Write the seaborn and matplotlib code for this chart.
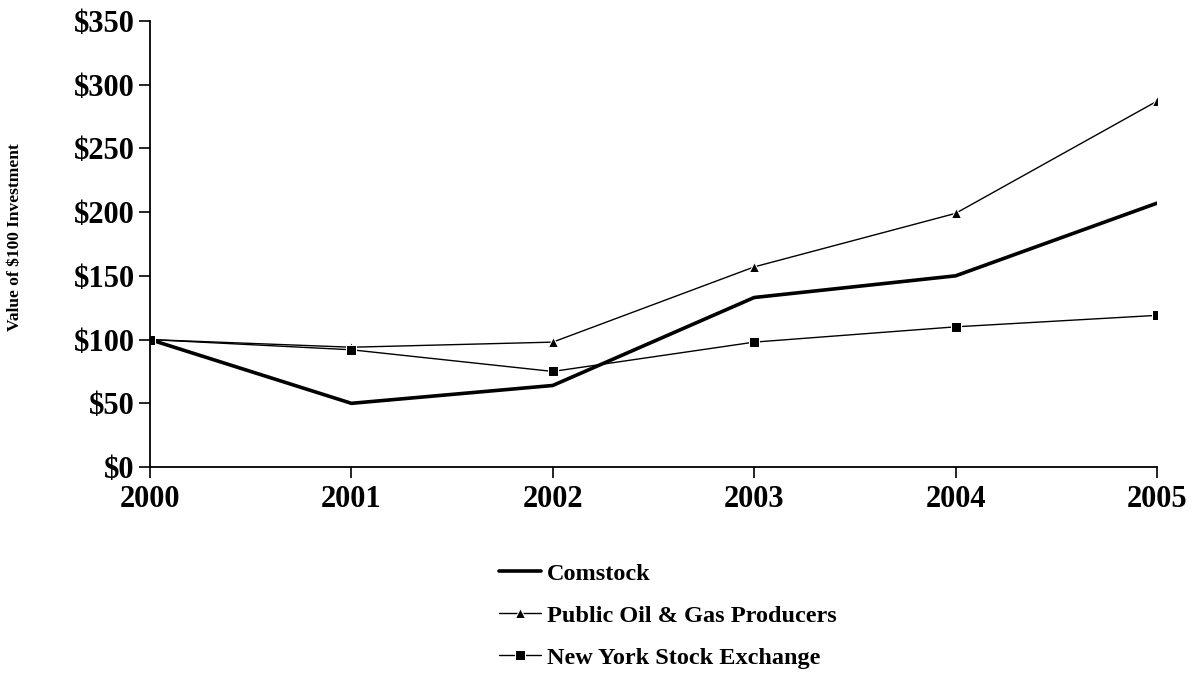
import pandas as pd
import seaborn as sns
import matplotlib.pyplot as plt
from matplotlib.ticker import FuncFormatter

years = [2000, 2001, 2002, 2003, 2004, 2005]
comstock = [100, 50, 64, 133, 150, 207]
oil_gas = [100, 94, 98, 157, 199, 287]
nyse = [100, 92, 75, 98, 110, 119]

series_names = ["Comstock", "Public Oil & Gas Producers", "New York Stock Exchange"]

df = pd.DataFrame({"year": years, series_names[0]: comstock,
                   series_names[1]: oil_gas, series_names[2]: nyse})

sns.set_style("white")
plt.rcParams['font.family'] = ['Liberation Serif', 'DejaVu Serif']
plt.rcParams['font.weight'] = 'bold'
plt.rcParams['text.color'] = 'black'

fig = plt.figure(figsize=(11.94, 6.73), dpi=100)
ax = fig.add_axes([0.1256, 0.306, 0.8434, 0.663])

# line styles per series
styles = {
    "Comstock": dict(lw=2.6, marker=None),
    "Public Oil & Gas Producers": dict(lw=1.0, marker='^', markersize=7.5),
    "New York Stock Exchange": dict(lw=1.0, marker='s', markersize=7),
}
for name in series_names:
    sns.lineplot(data=df, x="year", y=name, ax=ax, color='black',
                 label=name, **styles[name])

ax.set_xlim(2000, 2005)
ax.set_ylim(0, 350)
ax.set_yticks(range(0, 351, 50))
ax.set_xticks(years)
ax.yaxis.set_major_formatter(FuncFormatter(lambda v, p: f"${v:.0f}"))
ax.tick_params(axis='both', labelsize=22, direction='out', length=8, width=1.2,
               colors='black', left=True, bottom=True)
ax.tick_params(axis='y', pad=3)
ax.tick_params(axis='x', pad=5)
for lab in ax.get_xticklabels() + ax.get_yticklabels():
    lab.set_fontweight('bold')

sns.despine(ax=ax)
for s in ['left', 'bottom']:
    ax.spines[s].set_color('black')
    ax.spines[s].set_linewidth(1.3)

ax.set_xlabel("")
ax.set_ylabel("Value of $100 Investment", fontsize=12.5, fontweight='bold', color='black')
ax.yaxis.set_label_coords(-0.126, 0.516)

ax.get_legend().remove()
handles, labels = ax.get_legend_handles_labels()
leg = fig.legend(handles, labels, loc='upper left', bbox_to_anchor=(0.4, 0.196),
                 frameon=False, handlelength=1.7, handletextpad=0.25,
                 labelspacing=0.82, prop={'weight': 'bold', 'size': 17.5})
for t in leg.get_texts():
    t.set_color('black')

fig.savefig("out.png", dpi=100)
